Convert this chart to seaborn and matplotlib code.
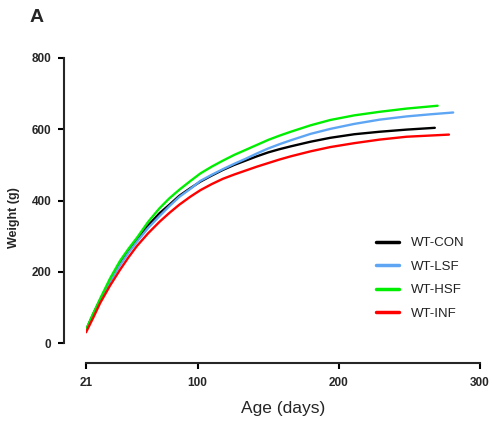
import matplotlib
matplotlib.use("Agg")
import matplotlib.pyplot as plt
import seaborn as sns
import pandas as pd

# ---- data ----
groups = ["WT-CON", "WT-LSF", "WT-HSF", "WT-INF"]
colors = ["#000000", "#5EA6F4", "#00EE00", "#FF0000"]

age_con = [21, 26, 31, 38, 45, 51, 57, 65, 73, 80, 87, 95, 102, 110, 118,
           126, 134, 142, 150, 158, 166, 180, 194, 211, 229, 248, 268]
wt_con = [36, 80, 121, 176, 223, 258, 289, 330, 364, 388, 413, 435, 453, 470, 486,
          500, 512, 524, 535, 544, 552, 565, 576, 586, 593, 599, 604]

age_lsf = [21, 26, 31, 38, 45, 51, 57, 65, 73, 80, 87, 95, 102, 110, 118,
           126, 134, 142, 150, 158, 166, 180, 194, 211, 229, 248, 265, 281]
wt_lsf = [35, 78, 118, 172, 218, 253, 284, 323, 356, 384, 410, 433, 455, 472, 488,
          503, 517, 532, 546, 558, 569, 587, 601, 615, 627, 636, 642, 647]

age_hsf = [21, 26, 31, 38, 45, 51, 57, 65, 73, 80, 87, 95, 102, 110, 118,
           126, 134, 142, 150, 158, 166, 180, 194, 211, 229, 248, 270]
wt_hsf = [37, 82, 124, 181, 230, 264, 295, 340, 378, 406, 430, 455, 476, 495, 512,
          528, 542, 556, 570, 582, 593, 611, 626, 639, 649, 658, 666]

age_inf = [21, 26, 31, 38, 45, 51, 57, 65, 73, 80, 87, 95, 102, 110, 118,
           126, 134, 142, 150, 158, 166, 180, 194, 211, 229, 248, 278]
wt_inf = [30, 70, 112, 161, 205, 240, 272, 308, 340, 365, 388, 411, 429, 446, 461,
          473, 484, 495, 505, 515, 524, 538, 550, 561, 571, 579, 585]

xticks = [21, 100, 200, 300]
yticks = [0, 200, 400, 600, 800]

frames = []
for g, a, w in zip(groups, [age_con, age_lsf, age_hsf, age_inf],
                   [wt_con, wt_lsf, wt_hsf, wt_inf]):
    frames.append(pd.DataFrame({"Age": a, "Weight": w, "Group": g}))
df = pd.concat(frames, ignore_index=True)

sns.set_style("ticks")
plt.rcParams["font.family"] = ["Liberation Sans", "DejaVu Sans"]
plt.rcParams["font.weight"] = "bold"

W, H = 493, 425
fig = plt.figure(figsize=(W / 100, H / 100), dpi=100)
ax = fig.add_axes([86 / W, 1 - 343 / H, (480 - 86) / W, (343 - 58) / H])

sns.lineplot(data=df, x="Age", y="Weight", hue="Group", hue_order=groups,
             palette=dict(zip(groups, colors)), estimator=None, sort=False,
             linewidth=1.7, ax=ax)

ax.set_xlim(21, 300)
ax.set_ylim(0, 800)
ax.set_xticks(xticks)
ax.set_xticklabels([str(t) for t in xticks])
ax.set_yticks(yticks)
ax.set_yticklabels([str(t) for t in yticks])

for side in ["top", "right"]:
    ax.spines[side].set_visible(False)
ax.spines["left"].set_position(("outward", 22 * 0.72))
ax.spines["bottom"].set_position(("outward", 20 * 0.72))
for side in ["left", "bottom"]:
    ax.spines[side].set_linewidth(1.5)
ax.tick_params(axis="both", width=1.5, length=4, color="black", labelsize=8.5)
ax.tick_params(axis="y", pad=5)
ax.tick_params(axis="x", pad=6)

ax.set_xlabel("Age (days)", fontsize=12.5, fontweight="normal", labelpad=9)
ax.set_ylabel("Weight (g)", fontsize=9, fontweight="bold")
ax.yaxis.set_label_coords(-0.168, 0.44)

leg = ax.legend(frameon=False, loc="lower left", bbox_to_anchor=(0.705, 0.04),
                fontsize=9.5, handlelength=1.75, handletextpad=0.9,
                labelspacing=0.85)
for line in leg.get_lines():
    line.set_linewidth(2.5)
for t in leg.get_texts():
    t.set_color("#222222")
    t.set_fontweight("normal")

fig.text(30 / W, 1 - 22 / H, "A", fontsize=14, fontweight="bold")

fig.savefig("out.png", dpi=100)
